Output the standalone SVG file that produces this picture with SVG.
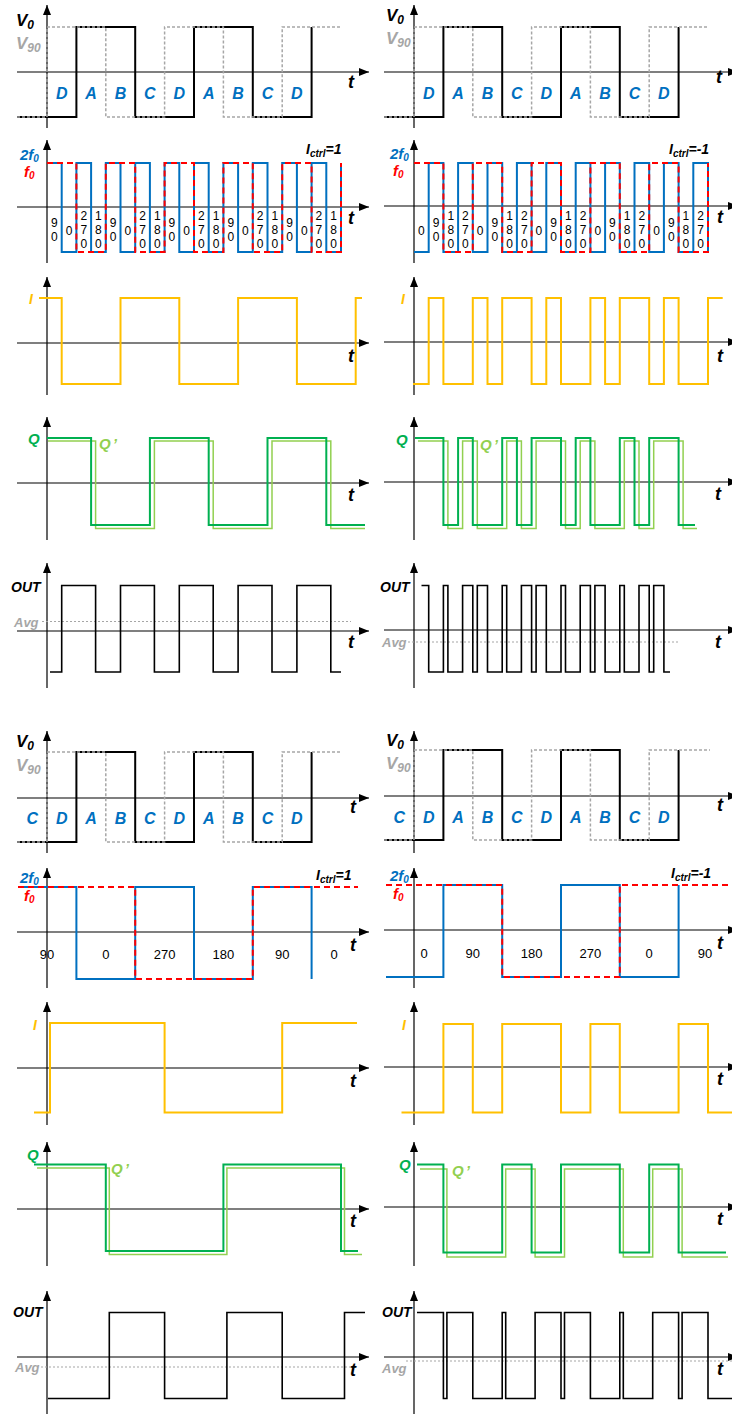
<svg xmlns="http://www.w3.org/2000/svg" width="732" height="1414" viewBox="0 0 732 1414">
<defs>
<marker id="ah" markerWidth="10" markerHeight="8" refX="10" refY="4" orient="auto" markerUnits="userSpaceOnUse"><path d="M0,0 L10,4 L0,8 z" fill="#000"/></marker>
<style>
.ax{stroke:#000;stroke-width:1.2;fill:none}
.v0{stroke:#000;stroke-width:2;fill:none}
.v90{stroke:#A6A6A6;stroke-width:1.5;stroke-dasharray:3 2;fill:none}
.bl{stroke:#0070C0;stroke-width:2;fill:none}
.rd{stroke:#FF0000;stroke-width:2;stroke-dasharray:6 4;fill:none}
.og{stroke:#FFC000;stroke-width:2;fill:none}
.q{stroke:#00B050;stroke-width:2;fill:none}
.qp{stroke:#92D050;stroke-width:1.5;fill:none}
.out{stroke:#000;stroke-width:1.6;fill:none}
.avg{stroke:#A6A6A6;stroke-width:1.2;stroke-dasharray:2 2;fill:none}
text{font-family:"Liberation Sans",Arial,sans-serif}
.b{font-weight:bold;font-style:italic}
.t{font-size:18px;fill:#000}
.vl{font-size:17px}
.ph{font-size:16px;fill:#0070C0;text-anchor:middle}
.s13{font-size:13px}
.s14{font-size:14px}
.s15{font-size:15px}
.n{font-size:12px;fill:#000;text-anchor:middle}
.n2{font-size:13px;fill:#000;text-anchor:middle}
.gr{fill:#A6A6A6}
.k{fill:#000}
</style>
</defs>

<!-- ===== P1 V0 top ===== -->
<g id="p1-left">
<line class="ax" x1="47" y1="128" x2="47" y2="5" marker-end="url(#ah)"/>
<line class="ax" x1="17" y1="72" x2="369" y2="72" marker-end="url(#ah)"/>
<path class="v0" d="M17,117 H76.4 V27 H135.2 V117 H194 V27 H252.8 V117 H311.6 V27"/>
<path class="v90" d="M17,117 H47 V27 H105.8 V117 H164.6 V27 H223.4 V117 H282.2 V27 H341"/>
<text class="b vl k" x="16" y="26">V<tspan font-size="12" dy="3">0</tspan></text>
<text class="b vl gr" x="16" y="49">V<tspan font-size="12" dy="3">90</tspan></text>
<text class="b t" x="348" y="88">t</text>
<g class="b ph"><text x="61.7" y="99">D</text><text x="91.1" y="99">A</text><text x="120.5" y="99">B</text><text x="149.9" y="99">C</text><text x="179.3" y="99">D</text><text x="208.7" y="99">A</text><text x="238.1" y="99">B</text><text x="267.5" y="99">C</text><text x="296.9" y="99">D</text></g>
</g>
<g id="p1-right">
<line class="ax" x1="414" y1="128" x2="414" y2="5" marker-end="url(#ah)"/>
<line class="ax" x1="384" y1="72" x2="738" y2="72" marker-end="url(#ah)"/>
<path class="v0" d="M384,117 H443.4 V27 H502.2 V117 H561 V27 H619.8 V117 H678.6 V27"/>
<path class="v90" d="M384,117 H414 V27 H472.8 V117 H531.6 V27 H590.4 V117 H649.2 V27 H708"/>
<text class="b vl k" x="386" y="21">V<tspan font-size="12" dy="3">0</tspan></text>
<text class="b vl gr" x="386" y="44">V<tspan font-size="12" dy="3">90</tspan></text>
<text class="b t" x="716" y="83">t</text>
<g class="b ph"><text x="428.7" y="99">D</text><text x="458.1" y="99">A</text><text x="487.5" y="99">B</text><text x="516.9" y="99">C</text><text x="546.3" y="99">D</text><text x="575.7" y="99">A</text><text x="605.1" y="99">B</text><text x="634.5" y="99">C</text><text x="663.9" y="99">D</text></g>
</g>

<!-- ===== P2 2f0 top ===== -->
<g id="p2-left">
<line class="ax" x1="47" y1="263" x2="47" y2="140" marker-end="url(#ah)"/>
<line class="ax" x1="17" y1="207" x2="369" y2="207" marker-end="url(#ah)"/>
<path class="bl" d="M47,163 H61.7 V252 H76.4 V163 H91.1 V252 H105.8 V163 H120.5 V252 H135.2 V163 H149.9 V252 H164.6 V163 H179.3 V252 H194 V163 H208.7 V252 H223.4 V163 H238.1 V252 H252.8 V163 H267.5 V252 H282.2 V163 H296.9 V252 H311.6 V163 H326.3 V252 H341 V163"/>
<path class="rd" d="M47,163 H76.4 V252 H105.8 V163 H135.2 V252 H164.6 V163 H194 V252 H223.4 V163 H252.8 V252 H282.2 V163 H311.6 V252 H341 V163"/>
<text class="b s15" x="20" y="160" fill="#0070C0">2f<tspan font-size="10" dy="2">0</tspan></text>
<text class="b s15" x="24" y="177" fill="#FF0000">f<tspan font-size="10" dy="2">0</tspan></text>
<text class="b s14 k" x="306" y="154">I<tspan font-size="10" dy="3">ctrl</tspan><tspan dy="-3">=1</tspan></text>
<text class="b t" x="348" y="224">t</text>
<g class="n">
<text x="54.35" y="227">9<tspan x="54.35" dy="14">0</tspan></text>
<text x="69.05" y="235">0</text>
<text x="83.75" y="220">2<tspan x="83.75" dy="14">7</tspan><tspan x="83.75" dy="14">0</tspan></text>
<text x="98.45" y="220">1<tspan x="98.45" dy="14">8</tspan><tspan x="98.45" dy="14">0</tspan></text>
<text x="113.15" y="227">9<tspan x="113.15" dy="14">0</tspan></text>
<text x="127.85" y="235">0</text>
<text x="142.55" y="220">2<tspan x="142.55" dy="14">7</tspan><tspan x="142.55" dy="14">0</tspan></text>
<text x="157.25" y="220">1<tspan x="157.25" dy="14">8</tspan><tspan x="157.25" dy="14">0</tspan></text>
<text x="171.95" y="227">9<tspan x="171.95" dy="14">0</tspan></text>
<text x="186.65" y="235">0</text>
<text x="201.35" y="220">2<tspan x="201.35" dy="14">7</tspan><tspan x="201.35" dy="14">0</tspan></text>
<text x="216.05" y="220">1<tspan x="216.05" dy="14">8</tspan><tspan x="216.05" dy="14">0</tspan></text>
<text x="230.75" y="227">9<tspan x="230.75" dy="14">0</tspan></text>
<text x="245.45" y="235">0</text>
<text x="260.15" y="220">2<tspan x="260.15" dy="14">7</tspan><tspan x="260.15" dy="14">0</tspan></text>
<text x="274.85" y="220">1<tspan x="274.85" dy="14">8</tspan><tspan x="274.85" dy="14">0</tspan></text>
<text x="289.55" y="227">9<tspan x="289.55" dy="14">0</tspan></text>
<text x="304.25" y="235">0</text>
<text x="318.95" y="220">2<tspan x="318.95" dy="14">7</tspan><tspan x="318.95" dy="14">0</tspan></text>
<text x="333.65" y="220">1<tspan x="333.65" dy="14">8</tspan><tspan x="333.65" dy="14">0</tspan></text>
</g>
</g>
<g id="p2-right">
<line class="ax" x1="414" y1="263" x2="414" y2="140" marker-end="url(#ah)"/>
<line class="ax" x1="384" y1="206" x2="738" y2="206" marker-end="url(#ah)"/>
<path class="bl" d="M414,252 H428.7 V163 H443.4 V252 H458.1 V163 H472.8 V252 H487.5 V163 H502.2 V252 H516.9 V163 H531.6 V252 H546.3 V163 H561 V252 H575.7 V163 H590.4 V252 H605.1 V163 H619.8 V252 H634.5 V163 H649.2 V252 H663.9 V163 H678.6 V252 H693.3 V163 H708 V252"/>
<path class="rd" d="M414,163 H443.4 V252 H472.8 V163 H502.2 V252 H531.6 V163 H561 V252 H590.4 V163 H619.8 V252 H649.2 V163 H678.6 V252 H708 V163"/>
<text class="b s15" x="390" y="159" fill="#0070C0">2f<tspan font-size="10" dy="2">0</tspan></text>
<text class="b s15" x="393" y="176" fill="#FF0000">f<tspan font-size="10" dy="2">0</tspan></text>
<text class="b s14 k" x="669" y="154">I<tspan font-size="10" dy="3">ctrl</tspan><tspan dy="-3">=-1</tspan></text>
<text class="b t" x="717" y="223">t</text>
<g class="n">
<text x="421.35" y="235">0</text>
<text x="436.05" y="227">9<tspan x="436.05" dy="14">0</tspan></text>
<text x="450.75" y="220">1<tspan x="450.75" dy="14">8</tspan><tspan x="450.75" dy="14">0</tspan></text>
<text x="465.45" y="220">2<tspan x="465.45" dy="14">7</tspan><tspan x="465.45" dy="14">0</tspan></text>
<text x="480.15" y="235">0</text>
<text x="494.85" y="227">9<tspan x="494.85" dy="14">0</tspan></text>
<text x="509.55" y="220">1<tspan x="509.55" dy="14">8</tspan><tspan x="509.55" dy="14">0</tspan></text>
<text x="524.25" y="220">2<tspan x="524.25" dy="14">7</tspan><tspan x="524.25" dy="14">0</tspan></text>
<text x="538.95" y="235">0</text>
<text x="553.65" y="227">9<tspan x="553.65" dy="14">0</tspan></text>
<text x="568.35" y="220">1<tspan x="568.35" dy="14">8</tspan><tspan x="568.35" dy="14">0</tspan></text>
<text x="583.05" y="220">2<tspan x="583.05" dy="14">7</tspan><tspan x="583.05" dy="14">0</tspan></text>
<text x="597.75" y="235">0</text>
<text x="612.45" y="227">9<tspan x="612.45" dy="14">0</tspan></text>
<text x="627.15" y="220">1<tspan x="627.15" dy="14">8</tspan><tspan x="627.15" dy="14">0</tspan></text>
<text x="641.85" y="220">2<tspan x="641.85" dy="14">7</tspan><tspan x="641.85" dy="14">0</tspan></text>
<text x="656.55" y="235">0</text>
<text x="671.25" y="227">9<tspan x="671.25" dy="14">0</tspan></text>
<text x="685.95" y="220">1<tspan x="685.95" dy="14">8</tspan><tspan x="685.95" dy="14">0</tspan></text>
<text x="700.65" y="220">2<tspan x="700.65" dy="14">7</tspan><tspan x="700.65" dy="14">0</tspan></text>
</g>
</g>

<!-- ===== P3 I top ===== -->
<g id="p3-left">
<line class="ax" x1="47" y1="395" x2="47" y2="277" marker-end="url(#ah)"/>
<line class="ax" x1="17" y1="343" x2="369" y2="343" marker-end="url(#ah)"/>
<path class="og" d="M39,298 H61.7 V384 H120.5 V298 H179.3 V384 H238.1 V298 H296.9 V384 H355.7 V298 H362"/>
<text class="b s14" x="29" y="304" fill="#FFC000">I</text>
<text class="b t" x="348" y="362">t</text>
</g>
<g id="p3-right">
<line class="ax" x1="414" y1="395" x2="414" y2="277" marker-end="url(#ah)"/>
<line class="ax" x1="384" y1="342" x2="738" y2="342" marker-end="url(#ah)"/>
<path class="og" d="M413,384 H428.7 V298 H443.4 V384 H472.8 V298 H487.5 V384 H502.2 V298 H531.6 V384 H546.3 V298 H561 V384 H590.4 V298 H605.1 V384 H619.8 V298 H649.2 V384 H663.9 V298 H678.6 V384 H708 V298 H722.7"/>
<text class="b s14" x="401" y="304" fill="#FFC000">I</text>
<text class="b t" x="717" y="362">t</text>
</g>

<!-- ===== P4 Q top ===== -->
<g id="p4-left">
<line class="ax" x1="47" y1="540" x2="47" y2="417" marker-end="url(#ah)"/>
<line class="ax" x1="17" y1="483" x2="369" y2="483" marker-end="url(#ah)"/>
<path class="qp" d="M48,441 H95.6 V528.5 H154.4 V441 H213.2 V528.5 H272 V441 H330.8 V528.5 H365"/>
<path class="q" d="M47,438 H91.1 V525 H149.9 V438 H208.7 V525 H267.5 V438 H326.3 V525 H365"/>
<text class="b s15" x="28" y="444" fill="#00B050">Q</text>
<text class="b s15" x="99" y="449" fill="#92D050">Q<tspan dx="2">’</tspan></text>
<text class="b t" x="348" y="501">t</text>
</g>
<g id="p4-right">
<line class="ax" x1="414" y1="540" x2="414" y2="417" marker-end="url(#ah)"/>
<line class="ax" x1="384" y1="482" x2="738" y2="482" marker-end="url(#ah)"/>
<path class="qp" d="M418,441 H447.9 V528.5 H462.6 V441 H477.3 V528.5 H506.7 V441 H521.4 V528.5 H536.1 V441 H565.5 V528.5 H580.2 V441 H594.9 V528.5 H624.3 V441 H639 V528.5 H653.7 V441 H683.1 V528.5 H697"/>
<path class="q" d="M415,438 H443.4 V525 H458.1 V438 H472.8 V525 H502.2 V438 H516.9 V525 H531.6 V438 H561 V525 H575.7 V438 H590.4 V525 H619.8 V438 H634.5 V525 H649.2 V438 H678.6 V525 H695"/>
<text class="b s15" x="396" y="445" fill="#00B050">Q</text>
<text class="b s15" x="480" y="450" fill="#92D050">Q<tspan dx="2">’</tspan></text>
<text class="b t" x="715" y="500">t</text>
</g>

<!-- ===== P5 OUT top ===== -->
<g id="p5-left">
<line class="ax" x1="47" y1="688" x2="47" y2="563" marker-end="url(#ah)"/>
<line class="ax" x1="17" y1="631" x2="369" y2="631" marker-end="url(#ah)"/>
<line class="avg" x1="42" y1="621.5" x2="351" y2="621.5"/>
<path class="out" d="M50,672 H61.7 V585.5 H95.6 V672 H120.5 V585.5 H154.4 V672 H179.3 V585.5 H213.2 V672 H238.1 V585.5 H272 V672 H296.9 V585.5 H330.8 V672 H341"/>
<text class="b s14 k" x="11" y="592">OUT</text>
<text class="b s13 gr" x="14" y="627">Avg</text>
<text class="b t" x="348" y="648">t</text>
</g>
<g id="p5-right">
<line class="ax" x1="414" y1="688" x2="414" y2="563" marker-end="url(#ah)"/>
<line class="ax" x1="384" y1="630" x2="738" y2="630" marker-end="url(#ah)"/>
<line class="avg" x1="408" y1="642" x2="680" y2="642"/>
<path class="out" d="M421.5,585.5 H428.7 V672 H443.4 V585.5 H447.9 V672 H462.6 V585.5 H472.8 V672 H477.3 V585.5 H487.5 V672 H502.2 V585.5 H506.7 V672 H521.4 V585.5 H531.6 V672 H536.1 V585.5 H546.3 V672 H561 V585.5 H565.5 V672 H580.2 V585.5 H590.4 V672 H594.9 V585.5 H605.1 V672 H619.8 V585.5 H624.3 V672 H639 V585.5 H649.2 V672 H653.7 V585.5 H663.9 V672 H670"/>
<text class="b s14 k" x="380" y="592">OUT</text>
<text class="b s13 gr" x="382" y="647">Avg</text>
<text class="b t" x="715" y="648">t</text>
</g>

<!-- ===== P6 V0 bottom ===== -->
<g id="p6-left">
<line class="ax" x1="47" y1="853" x2="47" y2="731" marker-end="url(#ah)"/>
<line class="ax" x1="17" y1="798" x2="369" y2="798" marker-end="url(#ah)"/>
<path class="v0" d="M17,842 H76.4 V752 H135.2 V842 H194 V752 H252.8 V842 H311.6 V752"/>
<path class="v90" d="M17,842 H47 V752 H105.8 V842 H164.6 V752 H223.4 V842 H282.2 V752 H341"/>
<text class="b vl k" x="16" y="747">V<tspan font-size="12" dy="3">0</tspan></text>
<text class="b vl gr" x="16" y="771">V<tspan font-size="12" dy="3">90</tspan></text>
<text class="b t" x="350" y="813">t</text>
<g class="b ph"><text x="32.3" y="824">C</text><text x="61.7" y="824">D</text><text x="91.1" y="824">A</text><text x="120.5" y="824">B</text><text x="149.9" y="824">C</text><text x="179.3" y="824">D</text><text x="208.7" y="824">A</text><text x="238.1" y="824">B</text><text x="267.5" y="824">C</text><text x="296.9" y="824">D</text></g>
</g>
<g id="p6-right">
<line class="ax" x1="414" y1="853" x2="414" y2="731" marker-end="url(#ah)"/>
<line class="ax" x1="384" y1="796" x2="738" y2="796" marker-end="url(#ah)"/>
<path class="v0" d="M384,840 H443.4 V750 H502.2 V840 H561 V750 H619.8 V840 H678.6 V750"/>
<path class="v90" d="M384,840 H414 V750 H472.8 V840 H531.6 V750 H590.4 V840 H649.2 V750 H710"/>
<text class="b vl k" x="386" y="746">V<tspan font-size="12" dy="3">0</tspan></text>
<text class="b vl gr" x="386" y="769">V<tspan font-size="12" dy="3">90</tspan></text>
<text class="b t" x="717" y="811">t</text>
<g class="b ph"><text x="399.3" y="823">C</text><text x="428.7" y="823">D</text><text x="458.1" y="823">A</text><text x="487.5" y="823">B</text><text x="516.9" y="823">C</text><text x="546.3" y="823">D</text><text x="575.7" y="823">A</text><text x="605.1" y="823">B</text><text x="634.5" y="823">C</text><text x="663.9" y="823">D</text></g>
</g>

<!-- ===== P7 2f0 bottom ===== -->
<g id="p7-left">
<line class="ax" x1="47" y1="988" x2="47" y2="868" marker-end="url(#ah)"/>
<line class="ax" x1="17" y1="932" x2="369" y2="932" marker-end="url(#ah)"/>
<path class="bl" d="M18,887 H76.4 V979 H135.2 V887 H194 V979 H252.8 V887 H311.6 V979"/>
<path class="rd" d="M18,887 H135.2 V979 H252.8 V887 H358"/>
<text class="b s15" x="20" y="883" fill="#0070C0">2f<tspan font-size="10" dy="2">0</tspan></text>
<text class="b s15" x="24" y="901" fill="#FF0000">f<tspan font-size="10" dy="2">0</tspan></text>
<text class="b s14 k" x="316" y="880">I<tspan font-size="10" dy="3">ctrl</tspan><tspan dy="-3">=1</tspan></text>
<text class="b t" x="350" y="951">t</text>
<g class="n2"><text x="47" y="959">90</text><text x="105.8" y="959">0</text><text x="164.6" y="959">270</text><text x="223.4" y="959">180</text><text x="282.2" y="959">90</text><text x="334" y="959">0</text></g>
</g>
<g id="p7-right">
<line class="ax" x1="414" y1="988" x2="414" y2="868" marker-end="url(#ah)"/>
<line class="ax" x1="384" y1="930" x2="738" y2="930" marker-end="url(#ah)"/>
<path class="bl" d="M386,977 H443.4 V885 H502.2 V977 H561 V885 H619.8 V977 H678.6 V885"/>
<path class="rd" d="M386,885 H502.2 V977 H619.8 V885 H732"/>
<text class="b s15" x="390" y="881" fill="#0070C0">2f<tspan font-size="10" dy="2">0</tspan></text>
<text class="b s15" x="393" y="899" fill="#FF0000">f<tspan font-size="10" dy="2">0</tspan></text>
<text class="b s14 k" x="671" y="878">I<tspan font-size="10" dy="3">ctrl</tspan><tspan dy="-3">=-1</tspan></text>
<text class="b t" x="717" y="949">t</text>
<g class="n2"><text x="424" y="958">0</text><text x="472.8" y="958">90</text><text x="531.6" y="958">180</text><text x="590.4" y="958">270</text><text x="649.2" y="958">0</text><text x="705" y="958">90</text></g>
</g>

<!-- ===== P8 I bottom ===== -->
<g id="p8-left">
<line class="ax" x1="47" y1="1125" x2="47" y2="1002" marker-end="url(#ah)"/>
<line class="ax" x1="17" y1="1068" x2="369" y2="1068" marker-end="url(#ah)"/>
<path class="og" d="M34,1112.5 H50 V1023 H164.6 V1112.5 H282.2 V1023 H357"/>
<text class="b s14" x="33" y="1030" fill="#FFC000">I</text>
<text class="b t" x="350" y="1087">t</text>
</g>
<g id="p8-right">
<line class="ax" x1="414" y1="1125" x2="414" y2="1002" marker-end="url(#ah)"/>
<line class="ax" x1="384" y1="1067" x2="738" y2="1067" marker-end="url(#ah)"/>
<path class="og" d="M401.5,1112.5 H443.4 V1024 H472.8 V1112.5 H502.2 V1024 H561 V1112.5 H590.4 V1024 H619.8 V1112.5 H678.6 V1024 H708 V1112.5 H732"/>
<text class="b s14" x="402" y="1030" fill="#FFC000">I</text>
<text class="b t" x="717" y="1085">t</text>
</g>

<!-- ===== P9 Q bottom ===== -->
<g id="p9-left">
<line class="ax" x1="47" y1="1266" x2="47" y2="1142" marker-end="url(#ah)"/>
<line class="ax" x1="17" y1="1209" x2="369" y2="1209" marker-end="url(#ah)"/>
<path class="qp" d="M37,1168 H109.3 V1254.5 H226.9 V1168 H344.5 V1254.5 H362"/>
<path class="q" d="M34,1164.5 H105.8 V1251 H223.4 V1164.5 H341 V1251 H358"/>
<text class="b s15" x="27" y="1160" fill="#00B050">Q</text>
<text class="b s15" x="111" y="1174" fill="#92D050">Q<tspan dx="2">’</tspan></text>
<text class="b t" x="350" y="1227">t</text>
</g>
<g id="p9-right">
<line class="ax" x1="414" y1="1266" x2="414" y2="1142" marker-end="url(#ah)"/>
<line class="ax" x1="384" y1="1207" x2="738" y2="1207" marker-end="url(#ah)"/>
<path class="qp" d="M420,1169 H446.9 V1257 H505.7 V1169 H535.1 V1257 H564.5 V1169 H623.3 V1257 H652.7 V1169 H682.1 V1257 H728"/>
<path class="q" d="M417,1164.5 H443.4 V1252.5 H502.2 V1164.5 H531.6 V1252.5 H561 V1164.5 H619.8 V1252.5 H649.2 V1164.5 H678.6 V1252.5 H726"/>
<text class="b s15" x="399" y="1170" fill="#00B050">Q</text>
<text class="b s15" x="452" y="1176" fill="#92D050">Q<tspan dx="2">’</tspan></text>
<text class="b t" x="717" y="1225">t</text>
</g>

<!-- ===== P10 OUT bottom ===== -->
<g id="p10-left">
<line class="ax" x1="47" y1="1414" x2="47" y2="1291" marker-end="url(#ah)"/>
<line class="ax" x1="17" y1="1357" x2="369" y2="1357" marker-end="url(#ah)"/>
<line class="avg" x1="41" y1="1367" x2="351" y2="1367"/>
<path class="out" d="M48,1398.5 H109.3 V1312.5 H164.6 V1398.5 H226.9 V1312.5 H282.2 V1398.5 H344.5 V1312.5 H365"/>
<text class="b s14 k" x="13" y="1317">OUT</text>
<text class="b s13 gr" x="15" y="1372">Avg</text>
<text class="b t" x="350" y="1376">t</text>
</g>
<g id="p10-right">
<line class="ax" x1="414" y1="1414" x2="414" y2="1291" marker-end="url(#ah)"/>
<line class="ax" x1="384" y1="1357" x2="738" y2="1357" marker-end="url(#ah)"/>
<line class="avg" x1="406" y1="1361" x2="732" y2="1361"/>
<path class="out" d="M417,1312.5 H443.4 V1398.5 H446.9 V1312.5 H472.8 V1398.5 H502.2 V1312.5 H505.7 V1398.5 H535.1 V1312.5 H561 V1398.5 H564.5 V1312.5 H590.4 V1398.5 H619.8 V1312.5 H623.3 V1398.5 H652.7 V1312.5 H678.6 V1398.5 H682.1 V1312.5 H708 V1398.5 H732"/>
<text class="b s14 k" x="382" y="1317">OUT</text>
<text class="b s13 gr" x="382" y="1373">Avg</text>
<text class="b t" x="717" y="1375">t</text>
</g>
</svg>
